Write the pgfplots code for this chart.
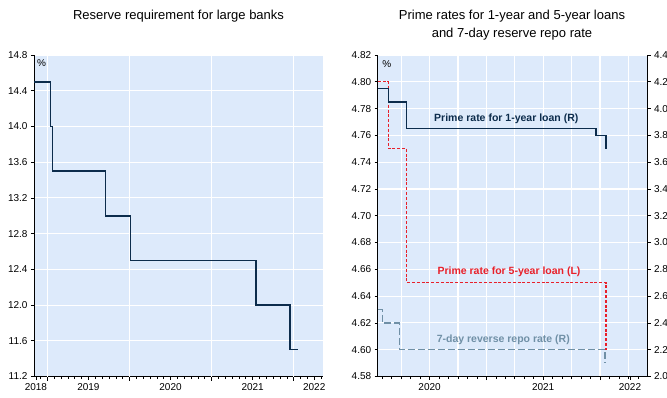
\documentclass[border=0pt]{standalone}
\usepackage{fontspec}
\setmainfont{Liberation Sans}
\usepackage{pgfplots}
\pgfplotsset{compat=1.18}
\definecolor{bgblue}{HTML}{DDEAFB}
\definecolor{navy}{HTML}{0C2C4C}
\definecolor{rred}{HTML}{E8202A}
\definecolor{grayblue}{HTML}{7090A6}

% x values are in years since 1 Jan 2018 (e.g. 2.5 = mid-2020)
\pgfplotsset{
  myaxis/.style={
    scale only axis,
    font=\fontsize{10}{12}\selectfont,
    /pgf/number format/assume math mode=true,
    tick align=outside,
    axis line style={-, black, line width=0.8pt},
    major tick style={black, line width=0.6pt},
    minor tick style={black, line width=0.6pt},
    grid style={white, line width=1.1pt},
    minor tick length=2.5pt,
    major tick length=3pt,
    clip=false,
  }
}

\begin{document}
\begin{tikzpicture}
\path[use as bounding box] (0pt,0pt) rectangle (667pt,397pt);

% ---------------- Left panel ----------------
\begin{axis}[myaxis,
  at={(34pt,20.5pt)}, anchor=south west,
  width=289pt, height=321.5pt,
  axis background/.style={fill=bgblue},
  xmin=0.837, xmax=4.357,
  ymin=11.2, ymax=14.8,
  axis x line*=bottom, axis y line*=left,
  ytick={11.2,11.6,12.0,12.4,12.8,13.2,13.6,14.0,14.4,14.8},
  y tick label style={/pgf/number format/.cd, fixed, fixed zerofill, precision=1},
  ymajorgrids,
  xtick={0.86,1.5,2.5,3.5,4.25},
  xticklabels={2018,2019,2020,2021,2022},
  extra x ticks={1,2,3,4},
  extra x tick labels={},
  extra x tick style={grid=major, major tick length=4pt},
  minor xtick={0.916667,1,...,4.34},
]
\addplot[const plot, navy, line width=1.5pt] coordinates {
  (0.837,14.5) (1.04,14.0) (1.065,13.5) (1.71,13.0)
  (2.01,12.5) (3.54,12.0) (3.955,11.5) (4.056,11.5)
};
\end{axis}
\node[font=\fontsize{10}{12}\selectfont] at (41.5pt,334pt) {\%};
\node[font=\fontsize{13}{16}\selectfont] at (178.5pt,381pt) {Reserve requirement for large banks};

% ---------------- Right panel (left scale) ----------------
\begin{axis}[myaxis,
  at={(377.7pt,20.5pt)}, anchor=south west,
  width=269.3pt, height=321.5pt,
  axis background/.style={fill=bgblue},
  xmin=2.043, xmax=4.414,
  ymin=4.58, ymax=4.82,
  axis x line*=bottom, axis y line*=left,
  ytick={4.58,4.60,4.62,4.64,4.66,4.68,4.70,4.72,4.74,4.76,4.78,4.80,4.82},
  y tick label style={/pgf/number format/.cd, fixed, fixed zerofill, precision=2},
  ymajorgrids,
  xtick={2.5,3.5,4.264},
  xticklabels={2020,2021,2022},
  extra x ticks={2.25,2.5,2.75,3,3.25,3.5,3.75,4,4.25},
  extra x tick labels={},
  extra x tick style={grid=major, major tick length=2.5pt},
  minor xtick={2.083333,2.166667,...,4.4},
]
\addplot[const plot, rred, line width=1.2pt, dash pattern=on 3pt off 1.8pt] coordinates {
  (2.043,4.80) (2.137,4.75) (2.298,4.65) (4.053,4.60)
};
\end{axis}

% ---------------- Right panel (right scale) ----------------
\begin{axis}[myaxis,
  at={(377.7pt,20.5pt)}, anchor=south west,
  width=269.3pt, height=321.5pt,
  xmin=2.043, xmax=4.414,
  ymin=2.0, ymax=4.4,
  axis x line*=bottom, axis y line*=right,
  ytick={2.0,2.2,2.4,2.6,2.8,3.0,3.2,3.4,3.6,3.8,4.0,4.2,4.4},
  y tick label style={/pgf/number format/.cd, fixed, fixed zerofill, precision=1},
  xtick={3,4},
  xticklabels={},
  major tick length=3.5pt,
]
\addplot[const plot, grayblue, line width=1.3pt, dash pattern=on 7pt off 3pt] coordinates {
  (2.043,2.50) (2.084,2.40) (2.233,2.20) (4.044,2.10)
};
\addplot[const plot, navy, line width=1.5pt] coordinates {
  (2.043,4.15) (2.137,4.05) (2.298,3.85) (3.965,3.80) (4.053,3.70)
};
\end{axis}
\node[font=\fontsize{10}{12}\selectfont] at (386.7pt,333pt) {\%};
\node[font=\fontsize{13}{18}\selectfont, align=center] at (512pt,372pt) {Prime rates for 1-year and 5-year loans\\and 7-day reserve repo rate};

\node[font=\bfseries\fontsize{10.5}{12}\selectfont, text=navy] at (506.3pt,278pt) {Prime rate for 1-year loan (R)};
\node[font=\bfseries\fontsize{10.5}{12}\selectfont, text=rred] at (509pt,125.3pt) {Prime rate for 5-year loan (L)};
\node[font=\bfseries\fontsize{10.5}{12}\selectfont, text=grayblue] at (503.3pt,57.7pt) {7-day reverse repo rate (R)};
\end{tikzpicture}
\end{document}
